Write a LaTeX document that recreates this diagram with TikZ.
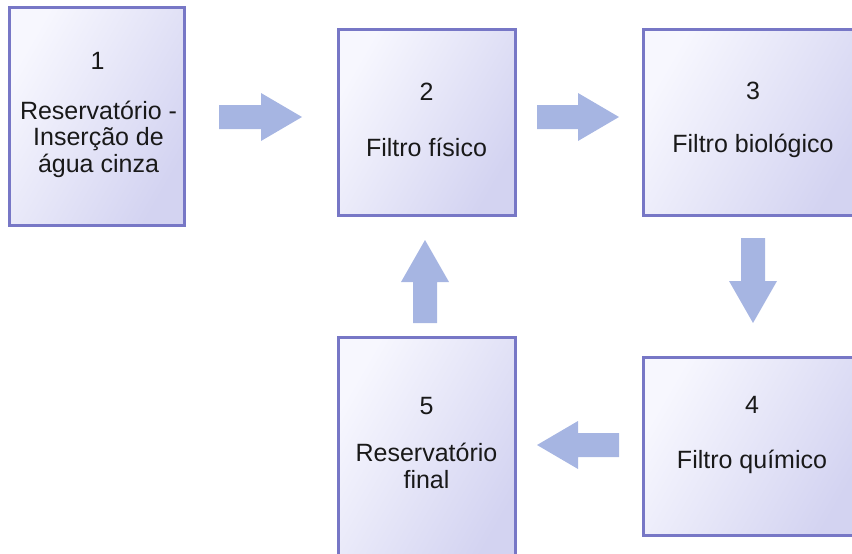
\documentclass[tikz,border=0pt]{standalone}
\usepackage{fontspec}
\setmainfont{Liberation Sans}
\begin{document}
\begin{tikzpicture}[x=1pt,y=-1pt,
  box/.style={draw=boxline,line width=3pt,rectangle,inner sep=0pt,
    left color=boxlight,right color=boxdark,shading angle=60},
  lbl/.style={text=black!90,font=\fontsize{25}{26.5}\selectfont,align=center,inner sep=0pt},
  blockarrow/.style={fill=arrowfill,draw=none}]
\definecolor{boxline}{HTML}{7777C6}
\definecolor{boxlight}{HTML}{F7F7FE}
\definecolor{boxdark}{HTML}{D3D3F1}
\definecolor{arrowfill}{HTML}{A6B5E2}
\useasboundingbox (0,0) rectangle (852,554);
\begin{scope}
\clip (0,0) rectangle (852,554);
% boxes
\node[box,minimum width=175pt,minimum height=218pt] (b1) at (96.5,116) {};
\node[box,minimum width=177pt,minimum height=186pt] (b2) at (426.5,122) {};
\node[box,minimum width=220pt,minimum height=186pt] (b3) at (753,122) {};
\node[box,minimum width=220pt,minimum height=178pt] (b4) at (753,446) {};
\node[box,minimum width=177pt,minimum height=230pt] (b5) at (426.5,452) {};
% texts
\node[lbl] (n1) at (97.5,61) {1};
\node[lbl] (t1) at (98.5,139) {Reservatório -\\Inserção de\\água cinza};
\node[lbl] (n2) at (426.5,92) {2};
\node[lbl] (t2) at (426.5,147) {Filtro físico};
\node[lbl] (n3) at (753,91) {3};
\node[lbl] (t3) at (753,146) {Filtro biológico};
\node[lbl] (n4) at (752,405) {4};
\node[lbl] (t4) at (752,462) {Filtro químico};
\node[lbl] (n5) at (426.5,406) {5};
\node[lbl] (t5) at (426.5,466) {Reservatório\\final};
% block arrows
\fill[blockarrow] (219,105) -- (261,105) -- (261,93) -- (302,117) -- (261,141) -- (261,129) -- (219,129) -- cycle;
\fill[blockarrow] (537,105) -- (578,105) -- (578,93) -- (619,117) -- (578,141) -- (578,129) -- (537,129) -- cycle;
\fill[blockarrow] (741,238) -- (741,281) -- (729,281) -- (753,323) -- (777,281) -- (765,281) -- (765,238) -- cycle;
\fill[blockarrow] (413,323) -- (413,282) -- (401,282) -- (425,240) -- (449,282) -- (437,282) -- (437,323) -- cycle;
\fill[blockarrow] (619,433) -- (578,433) -- (578,421) -- (537,445) -- (578,469) -- (578,457) -- (619,457) -- cycle;
\end{scope}
\end{tikzpicture}
\end{document}
